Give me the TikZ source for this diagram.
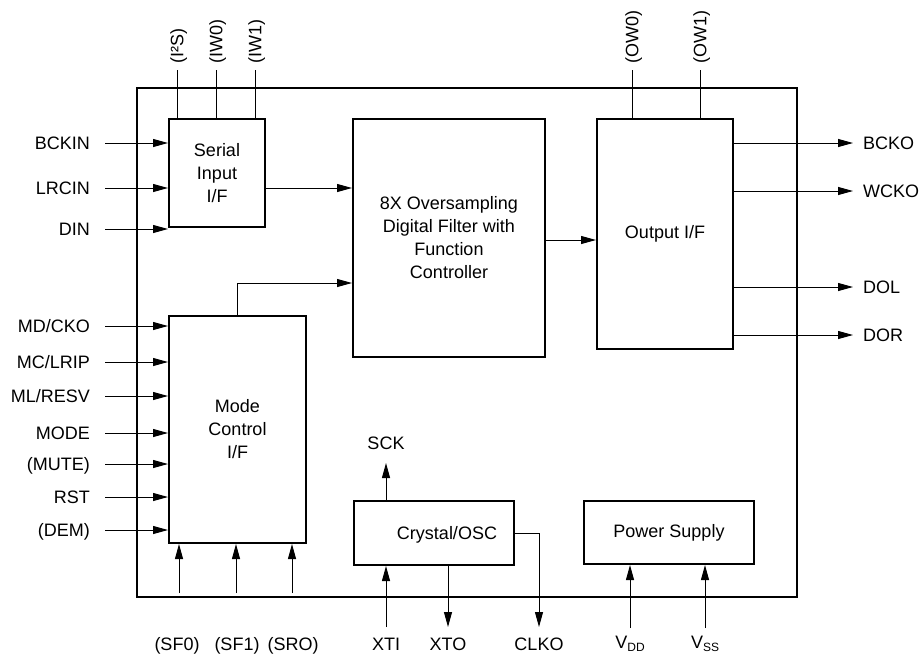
\documentclass[tikz,border=0pt]{standalone}
\usepackage{fontspec}
\setmainfont{Liberation Sans}
\usetikzlibrary{arrows.meta}
\begin{document}
\begin{tikzpicture}[x=1pt,y=-1pt,
  blk/.style={draw, line width=2pt, inner sep=0pt, align=center, anchor=north west,
    font=\fontsize{18}{23}\selectfont},
  lbl/.style={inner sep=0pt, text height=12.9pt, text depth=0pt, font=\fontsize{18}{22}\selectfont},
  sig/.style={line width=1pt},
  arr/.style={sig, -{Triangle[length=15pt,width=8pt]}}]
\useasboundingbox (0,0) rectangle (921,654);

% outer chip
\node[draw, line width=2pt, inner sep=0pt, anchor=north west, minimum width=660pt, minimum height=509pt] (chip) at (136,87) {};

% blocks
\node[blk, minimum width=96pt, minimum height=108pt] (serial) at (168,118) {Serial\\Input\\I/F};
\node[blk, minimum width=192pt, minimum height=238pt] (filter) at (352,118) {8X Oversampling\\Digital Filter with\\Function\\Controller};
\node[blk, minimum width=136pt, minimum height=230pt] (output) at (596,118) {Output I/F};
\node[blk, minimum width=137pt, minimum height=227pt] (mode) at (168,315) {Mode\\Control\\I/F};
\node[blk, minimum width=160pt, minimum height=64pt, label={[lbl, xshift=13pt]center:Crystal/OSC}] (osc) at (353,500) {};
\node[blk, minimum width=170pt, minimum height=63pt] (power) at (583,500) {Power Supply};

% top labels
\foreach \n/\x/\t in {i2s/177/(I²S), iw0/216/(IW0), iw1/255/(IW1), ow0/632/(OW0), ow1/700/(OW1)}{
  \node[lbl, rotate=90, anchor=west] (\n) at (\x,64) {\t};
}
\foreach \n in {i2s, iw0, iw1}{
  \draw[sig] ([yshift=-6pt]\n.west) -- (\n.west |- serial.north);
}
\foreach \n in {ow0, ow1}{
  \draw[sig] ([yshift=-6pt]\n.west) -- (\n.west |- output.north);
}

% serial inputs
\foreach \n/\y/\t in {bckin/143/BCKIN, lrcin/188/LRCIN, din/229/DIN}{
  \node[lbl, anchor=east] (\n) at (90,\y) {\t};
  \draw[arr] ([xshift=15pt]\n.east) -- (\n.east -| serial.west);
}

% mode inputs
\foreach \n/\y/\t in {mdcko/326/{MD/CKO}, mclrip/362/{MC/LRIP}, mlresv/396/{ML/RESV}, modein/433/MODE, mute/464/(MUTE), rst/497/RST, dem/530/(DEM)}{
  \node[lbl, anchor=east] (\n) at (90,\y) {\t};
  \draw[arr] ([xshift=15pt]\n.east) -- (\n.east -| mode.west);
}

% outputs
\foreach \n/\y/\t in {bcko/143/BCKO, wcko/191/WCKO, dol/287/DOL, dor/335/DOR}{
  \node[lbl, anchor=west] (\n) at (863,\y) {\t};
  \draw[arr] (\n.west -| output.east) -- ([xshift=-10pt]\n.west);
}

% internal connections
\draw[arr] (serial.east |- 0,188) -- (filter.west |- 0,188);
\draw[arr] (mode.north) |- (filter.west |- 0,283);
\draw[arr] (filter.east |- 0,240) -- (output.west |- 0,240);

% bottom mode inputs
\foreach \n/\x/\lx/\t in {sf0/179/177/(SF0), sf1/236/237/(SF1), sro/292/293/(SRO)}{
  \node[lbl] (\n) at (\lx,644) {\t};
  \coordinate (\n b) at (\x,593);
  \draw[arr] (\n b) -- (\n b |- mode.south);
}

% crystal osc
\node[lbl] (sck) at (386,443) {SCK};
\coordinate (scktip) at (386,463);
\draw[arr] (scktip |- osc.north) -- (scktip);
\node[lbl] (xti) at (386,644) {XTI};
\node[lbl] (xto) at (448,644) {XTO};
\node[lbl] (clko) at (539,644) {CLKO};
\coordinate (xtib) at (386,627);
\coordinate (xtob) at (448,627);
\coordinate (clkob) at (539,627);
\draw[arr] (xtib) -- (xtib |- osc.south);
\draw[arr] (xtob |- osc.south) -- (xtob);
\draw[arr] (osc.east) -| (clkob);

% power
\node[lbl] (vdd) at (630,642) {V\raisebox{-3.5pt}{\fontsize{12}{12}\selectfont DD}};
\node[lbl] (vss) at (705,642) {V\raisebox{-3.5pt}{\fontsize{12}{12}\selectfont SS}};
\coordinate (vddb) at (630,628);
\coordinate (vssb) at (705,628);
\draw[arr] (vddb) -- (vddb |- power.south);
\draw[arr] (vssb) -- (vssb |- power.south);
\end{tikzpicture}
\end{document}
